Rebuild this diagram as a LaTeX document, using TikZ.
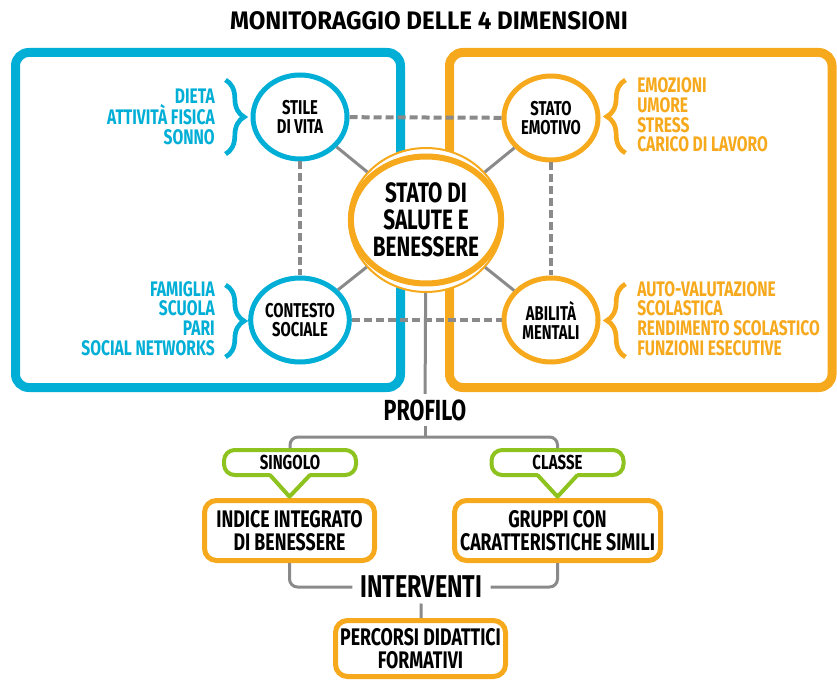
\documentclass[tikz,border=0pt]{standalone}
\usepackage{fontspec}
\setmainfont{Fira Sans}[FakeStretch=0.74]
\newfontfamily\titolofont{Fira Sans}[FakeStretch=0.95]
\usepackage{tikz}
\usetikzlibrary{shapes.geometric}
\usetikzlibrary{decorations.pathreplacing}

\definecolor{azzurro}{RGB}{0,174,214}
\definecolor{arancio}{RGB}{246,169,28}
\definecolor{verde}{RGB}{141,194,31}
\definecolor{grigio}{RGB}{138,138,138}

\tikzset{
  cornice/.style={line width=6.75pt, rounded corners=10pt},
  dim/.style={ellipse, draw, line width=3.75pt, fill=white, minimum width=70.5pt, minimum height=63pt, inner sep=0pt, align=center, font=\fontsize{15pt}{14.2pt}\selectfont\bfseries},
  anello/.style={ellipse, draw=arancio, line width=1.5pt, fill=white, minimum width=115.5pt, minimum height=108pt, inner sep=0pt},
  centro/.style={ellipse, draw=arancio, line width=4.5pt, minimum width=103.5pt, minimum height=95.25pt, inner sep=0pt, align=center, font=\fontsize{21pt}{20.25pt}\selectfont\bfseries},
  lista/.style={inner sep=0pt, font=\fontsize{15.8pt}{14.8pt}\selectfont\bfseries},
  graffa/.style={line width=3.5pt, decorate, decoration={brace, amplitude=14pt}},
  titolo/.style={inner sep=0pt, font=\titolofont\fontsize{19pt}{22pt}\selectfont\bfseries},
  passo/.style={inner xsep=6pt, inner ysep=4pt, font=\fontsize{21.8pt}{24pt}\selectfont\bfseries},
  etichetta/.style={draw=verde, line width=3pt, rounded corners=8pt, fill=white, minimum width=99pt, minimum height=18.75pt, inner sep=0pt, font=\fontsize{15.2pt}{17pt}\selectfont\bfseries},
  punta/.style={draw=verde, line width=3pt, line join=round},
  esito/.style={draw=arancio, line width=3.75pt, rounded corners=9pt, fill=white, minimum width=127.5pt, minimum height=45pt, inner sep=0pt, align=center, font=\fontsize{18pt}{17.25pt}\selectfont\bfseries},
  legame/.style={draw=grigio, line width=2.25pt},
  tratteggio/.style={draw=grigio, line width=3pt, dash pattern=on 6pt off 3pt}
}

\begin{document}
\begin{tikzpicture}[x=0.75pt, y=-0.75pt]
        \useasboundingbox (0,0) rectangle (837,680);

        % titolo
        \node[titolo] (titolo) at (429,21) {MONITORAGGIO DELLE 4 DIMENSIONI};

        % riquadri delle dimensioni
        \draw[cornice, draw=azzurro] (15.5,52.5) rectangle (400.5,387.5);
        \draw[cornice, draw=arancio] (449.5,52.5) rectangle (832,387.5);

        % stato di salute e benessere (doppio bordo)
        \node[anello] (saluteout) at (426,220) {};
        \node[centro] (salute) at (426,220) {STATO DI\\SALUTE E\\BENESSERE};

        % le 4 dimensioni
        \node[dim, draw=azzurro] (stile) at (300,117) {STILE\\DI VITA};
        \node[dim, draw=azzurro] (contesto) at (300,320) {CONTESTO\\SOCIALE};
        \node[dim, draw=arancio] (emotivo) at (551,118) {STATO\\EMOTIVO};
        \node[dim, draw=arancio] (abilita) at (551,320) {ABILITÀ\\MENTALI};
        \draw[tratteggio] (stile) -- (emotivo);
        \draw[tratteggio] (contesto) -- (abilita);
        \draw[tratteggio] (stile) -- (contesto);
        \draw[tratteggio] (emotivo) -- (abilita);
        \draw[legame] (stile) -- (saluteout);
        \draw[legame] (contesto) -- (saluteout);
        \draw[legame] (emotivo) -- (saluteout);
        \draw[legame] (abilita) -- (saluteout);

        % elenchi con graffe
        \node[lista, text=azzurro, anchor=east, align=right] (listastile) at (215,117) {DIETA\\ATTIVITÀ FISICA\\SONNO};
        \node[lista, text=azzurro, anchor=east, align=right] (listacontesto) at (215,318.5) {FAMIGLIA\\SCUOLA\\PARI\\SOCIAL NETWORKS};
        \node[lista, text=arancio, anchor=west, align=left] (listaemotivo) at (637,115) {EMOZIONI\\UMORE\\STRESS\\CARICO DI LAVORO};
        \node[lista, text=arancio, anchor=west, align=left] (listaabilita) at (637,318.5) {AUTO-VALUTAZIONE\\SCOLASTICA\\RENDIMENTO SCOLASTICO\\FUNZIONI ESECUTIVE};
        \draw[graffa, azzurro] (225.5,80) -- (225.5,154);
        \draw[graffa, azzurro] (225.5,285) -- (225.5,357);
        \draw[graffa, arancio] (625.5,153) -- (625.5,80);
        \draw[graffa, arancio] (625.5,357) -- (625.5,284);

        % profilo
        \node[passo] (profilo) at (425,410) {PROFILO};
        \node[etichetta] (singolo) at (290,462.5) {SINGOLO};
        \node[etichetta] (classe) at (557.5,462.5) {CLASSE};
        \node[esito] (indice) at (289.5,530.5) {INDICE INTEGRATO\\DI BENESSERE};
        \node[esito, minimum width=154.5pt] (gruppi) at (557.5,530.5) {GRUPPI CON\\CARATTERISTICHE SIMILI};
        \coordinate (bivio) at (425,437);
        \draw[legame] (saluteout) -- (profilo);
        \draw[legame] (profilo) -- (bivio);
        \draw[legame, rounded corners=6pt] (singolo.north) |- (bivio) -| (classe.north);
        \fill[white] ([xshift=-15pt,yshift=3.2pt]singolo.south) -- (indice.north) -- ([xshift=15pt,yshift=3.2pt]singolo.south) -- cycle;
        \draw[punta] ([xshift=-15pt,yshift=1.5pt]singolo.south) -- ([yshift=1pt]indice.north) -- ([xshift=15pt,yshift=1.5pt]singolo.south);
        \fill[white] ([xshift=-15pt,yshift=3.2pt]classe.south) -- (gruppi.north) -- ([xshift=15pt,yshift=3.2pt]classe.south) -- cycle;
        \draw[punta] ([xshift=-15pt,yshift=1.5pt]classe.south) -- ([yshift=1pt]gruppi.north) -- ([xshift=15pt,yshift=1.5pt]classe.south);

        % interventi
        \node[passo, font=\fontsize{23.6pt}{26pt}\selectfont\bfseries] (interventi) at (421.5,587) {INTERVENTI};
        \node[esito, minimum height=42pt] (percorsi) at (420.5,648.5) {PERCORSI DIDATTICI\\FORMATIVI};
        \draw[legame, rounded corners=6pt] (indice) |- (interventi);
        \draw[legame, rounded corners=6pt] (gruppi) |- (interventi);
        \draw[legame] (interventi) -- (percorsi);
\end{tikzpicture}
\end{document}
